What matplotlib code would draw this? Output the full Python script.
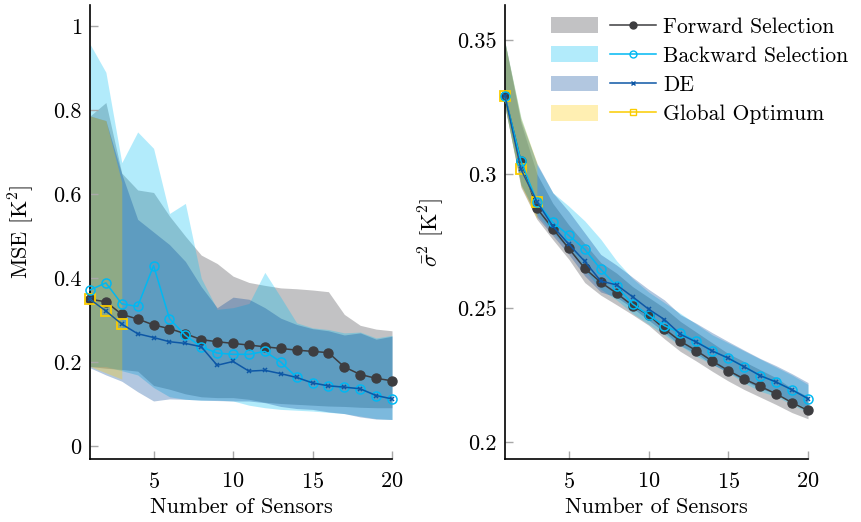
import matplotlib
matplotlib.use("Agg")
import matplotlib.pyplot as plt
from matplotlib.patches import Patch
from matplotlib.lines import Line2D
from matplotlib.legend_handler import HandlerTuple

plt.rcParams['font.family'] = ['cmr10', 'DejaVu Serif']
plt.rcParams['mathtext.fontset'] = 'cm'
plt.rcParams['axes.formatter.use_mathtext'] = True

# number of sensors
n_sensors = list(range(1, 21))
n_glob = [1, 2, 3]

# ---- left panel: MSE [K^2] ----
fwd_mse = [0.350, 0.344, 0.314, 0.303, 0.289, 0.280, 0.268, 0.254, 0.249, 0.245,
           0.241, 0.237, 0.233, 0.229, 0.226, 0.223, 0.189, 0.171, 0.162, 0.156]
bwd_mse = [0.372, 0.389, 0.339, 0.333, 0.430, 0.304, 0.264, 0.237, 0.222, 0.219,
           0.219, 0.226, 0.201, 0.164, 0.151, 0.144, 0.141, 0.137, 0.121, 0.113]
de_mse = [0.350, 0.322, 0.291, 0.268, 0.259, 0.249, 0.245, 0.237, 0.193, 0.202,
          0.179, 0.181, 0.173, 0.164, 0.151, 0.144, 0.141, 0.137, 0.121, 0.113]
glob_mse = [0.350, 0.322, 0.291]

fwd_mse_lo = [0.190, 0.186, 0.183, 0.179, 0.145, 0.136, 0.125, 0.118, 0.116, 0.116,
              0.112, 0.105, 0.102, 0.100, 0.098, 0.096, 0.095, 0.093, 0.092, 0.092]
fwd_mse_hi = [0.786, 0.818, 0.650, 0.610, 0.604, 0.548, 0.500, 0.455, 0.435, 0.405,
              0.390, 0.383, 0.377, 0.375, 0.372, 0.368, 0.314, 0.288, 0.279, 0.275]
bwd_mse_lo = [0.190, 0.190, 0.180, 0.170, 0.140, 0.118, 0.112, 0.110, 0.110, 0.108,
              0.098, 0.092, 0.088, 0.086, 0.084, 0.081, 0.078, 0.072, 0.066, 0.064]
bwd_mse_hi = [0.957, 0.890, 0.675, 0.748, 0.709, 0.554, 0.578, 0.400, 0.326, 0.330,
              0.340, 0.414, 0.355, 0.294, 0.282, 0.278, 0.270, 0.272, 0.258, 0.264]
de_mse_lo = [0.187, 0.170, 0.155, 0.130, 0.108, 0.113, 0.112, 0.110, 0.109, 0.108,
             0.108, 0.104, 0.095, 0.090, 0.088, 0.082, 0.078, 0.070, 0.065, 0.064]
de_mse_hi = [0.786, 0.775, 0.648, 0.540, 0.510, 0.480, 0.440, 0.380, 0.330, 0.355,
             0.350, 0.330, 0.305, 0.290, 0.280, 0.275, 0.265, 0.270, 0.255, 0.262]
glob_mse_lo = [0.190, 0.175, 0.160]
glob_mse_hi = [0.786, 0.775, 0.628]

# ---- right panel: mean posterior variance [K^2] ----
fwd_var = [0.3289, 0.3048, 0.2872, 0.2796, 0.2722, 0.2648, 0.2596, 0.2555, 0.2509, 0.2474,
           0.2422, 0.2376, 0.2341, 0.2302, 0.2267, 0.2235, 0.2208, 0.2180, 0.2147, 0.2118]
bwd_var = [0.3289, 0.3048, 0.2897, 0.2819, 0.2771, 0.2719, 0.2645, 0.2581, 0.2515, 0.2474,
           0.2434, 0.2407, 0.2376, 0.2340, 0.2313, 0.2281, 0.2248, 0.2224, 0.2195, 0.2162]
de_var = [0.3289, 0.3017, 0.2897, 0.2805, 0.2738, 0.2674, 0.2601, 0.2586, 0.2542, 0.2496,
          0.2457, 0.2402, 0.2373, 0.2340, 0.2313, 0.2281, 0.2248, 0.2224, 0.2195, 0.2162]
glob_var = [0.3289, 0.3017, 0.2897]

fwd_var_lo = [0.325, 0.295, 0.2831, 0.2755, 0.2682, 0.2595, 0.2548, 0.2512, 0.2475, 0.2436,
              0.2385, 0.2338, 0.2302, 0.2264, 0.2228, 0.2196, 0.2168, 0.2140, 0.2110, 0.2087]
fwd_var_hi = [0.349, 0.319, 0.300, 0.289, 0.281, 0.274, 0.267, 0.263, 0.258, 0.254,
              0.250, 0.245, 0.241, 0.237, 0.233, 0.230, 0.227, 0.224, 0.220, 0.217]
bwd_var_lo = [0.325, 0.296, 0.285, 0.278, 0.272, 0.264, 0.257, 0.253, 0.248, 0.244,
              0.240, 0.236, 0.232, 0.229, 0.226, 0.222, 0.219, 0.217, 0.214, 0.211]
bwd_var_hi = [0.349, 0.321, 0.3035, 0.293, 0.288, 0.2825, 0.2757, 0.2676, 0.261, 0.256,
              0.252, 0.248, 0.244, 0.240, 0.237, 0.234, 0.231, 0.228, 0.225, 0.2215]
de_var_lo = [0.325, 0.296, 0.284, 0.277, 0.270, 0.262, 0.256, 0.254, 0.250, 0.2455,
             0.241, 0.236, 0.233, 0.229, 0.226, 0.223, 0.220, 0.218, 0.215, 0.2125]
de_var_hi = [0.349, 0.320, 0.304, 0.293, 0.286, 0.278, 0.2700, 0.266, 0.2615, 0.2570,
             0.2530, 0.2475, 0.2443, 0.2408, 0.2375, 0.2343, 0.2312, 0.2285, 0.2255, 0.2222]
glob_var_lo = [0.325, 0.2955, 0.2831]
glob_var_hi = [0.349, 0.3209, 0.3042]

labels = ['Forward Selection', 'Backward Selection', 'DE', 'Global Optimum']

# colours (bands use the same alpha everywhere)
c_fwd = (0.24, 0.24, 0.25)
c_bwd = (0.0, 0.72, 0.95)
c_de = (0.05, 0.34, 0.65)
c_glob = (0.98, 0.80, 0.0)
band_fwd = (0.22, 0.22, 0.24)
band_bwd = (0.0, 0.75, 0.96)
band_de = (0.0, 0.28, 0.60)
band_glob = (1.0, 0.80, 0.0)
ALPHA = 0.3
FS = 16

fig = plt.figure(figsize=(8.61, 5.22), dpi=100)
ax1 = fig.add_axes([90 / 861, 1 - 459 / 522, 302 / 861, 454 / 522])
ax2 = fig.add_axes([505 / 861, 1 - 459 / 522, 303 / 861, 454 / 522])


def draw(ax, fwd, bwd, de, glob, fwd_b, bwd_b, de_b, glob_b):
    ax.fill_between(n_sensors, fwd_b[0], fwd_b[1], color=band_fwd, alpha=ALPHA, lw=0)
    ax.fill_between(n_sensors, bwd_b[0], bwd_b[1], color=band_bwd, alpha=ALPHA, lw=0)
    ax.fill_between(n_sensors, de_b[0], de_b[1], color=band_de, alpha=ALPHA, lw=0)
    ax.fill_between(n_glob, glob_b[0], glob_b[1], color=band_glob, alpha=ALPHA, lw=0)
    ax.plot(n_sensors, fwd, color=c_fwd, marker='o', ms=6.5, lw=1.1, clip_on=False, zorder=3)
    ax.plot(n_glob, glob, color=c_glob, marker='s', ms=6.5, mfc='none', mew=1.3, lw=1.1,
            clip_on=False, zorder=4)
    ax.plot(n_sensors, bwd, color=c_bwd, marker='o', ms=6.5, mfc='none', mew=1.1, lw=1.1,
            clip_on=False, zorder=4)
    ax.plot(n_sensors, de, color=c_de, marker='x', ms=3.5, mew=1.1, lw=1.1,
            clip_on=False, zorder=5)

    for s in ['top', 'right']:
        ax.spines[s].set_visible(False)
    for s in ['left', 'bottom']:
        ax.spines[s].set_linewidth(1.2)
    ax.tick_params(direction='in', length=6, width=1, color='#a8a8a8',
                   labelsize=FS)
    ax.tick_params(axis='x', pad=9)
    ax.tick_params(axis='y', pad=6)
    ax.set_xlim(1, 20)
    ax.set_xticks([5, 10, 15, 20])
    ax.set_xlabel('Number of Sensors', fontsize=FS, labelpad=4)


draw(ax1, fwd_mse, bwd_mse, de_mse, glob_mse,
     (fwd_mse_lo, fwd_mse_hi), (bwd_mse_lo, bwd_mse_hi),
     (de_mse_lo, de_mse_hi), (glob_mse_lo, glob_mse_hi))
ax1.set_ylim(-0.03, 1.05)
ax1.set_yticks([0, 0.2, 0.4, 0.6, 0.8, 1])
ax1.set_yticklabels(['0', '0.2', '0.4', '0.6', '0.8', '1'])
ax1.set_ylabel('MSE [K$^2$]', fontsize=FS, labelpad=12)

draw(ax2, fwd_var, bwd_var, de_var, glob_var,
     (fwd_var_lo, fwd_var_hi), (bwd_var_lo, bwd_var_hi),
     (de_var_lo, de_var_hi), (glob_var_lo, glob_var_hi))
ax2.set_ylim(0.1937, 0.363)
ax2.set_yticks([0.2, 0.25, 0.3, 0.35])
ax2.set_yticklabels(['0.2', '0.25', '0.3', '0.35'])
ax2.set_ylabel(r'$\bar{\sigma}^2$ [K$^2$]', fontsize=FS, labelpad=8)

# legend: band patch + line sample for each method
handles = [
    (Patch(facecolor=band_fwd, alpha=ALPHA, lw=0),
     Line2D([], [], color=c_fwd, marker='o', ms=5, lw=1.1)),
    (Patch(facecolor=band_bwd, alpha=ALPHA, lw=0),
     Line2D([], [], color=c_bwd, marker='o', ms=5, mfc='none', lw=1.1)),
    (Patch(facecolor=band_de, alpha=ALPHA, lw=0),
     Line2D([], [], color=c_de, marker='x', ms=3, lw=1.1)),
    (Patch(facecolor=band_glob, alpha=ALPHA, lw=0),
     Line2D([], [], color=c_glob, marker='s', ms=5, mfc='none', lw=1.1)),
]
fig.legend(handles, labels, handler_map={tuple: HandlerTuple(ndivide=None, pad=0.55)},
           loc='upper left', bbox_to_anchor=(551 / 861, 1 - 17 / 522),
           bbox_transform=fig.transFigure, frameon=False, fontsize=15.5,
           handlelength=4.9, handleheight=0.75, handletextpad=0.3,
           labelspacing=0.45, borderpad=0, borderaxespad=0, numpoints=1)

fig.savefig('out.png', dpi=100)
